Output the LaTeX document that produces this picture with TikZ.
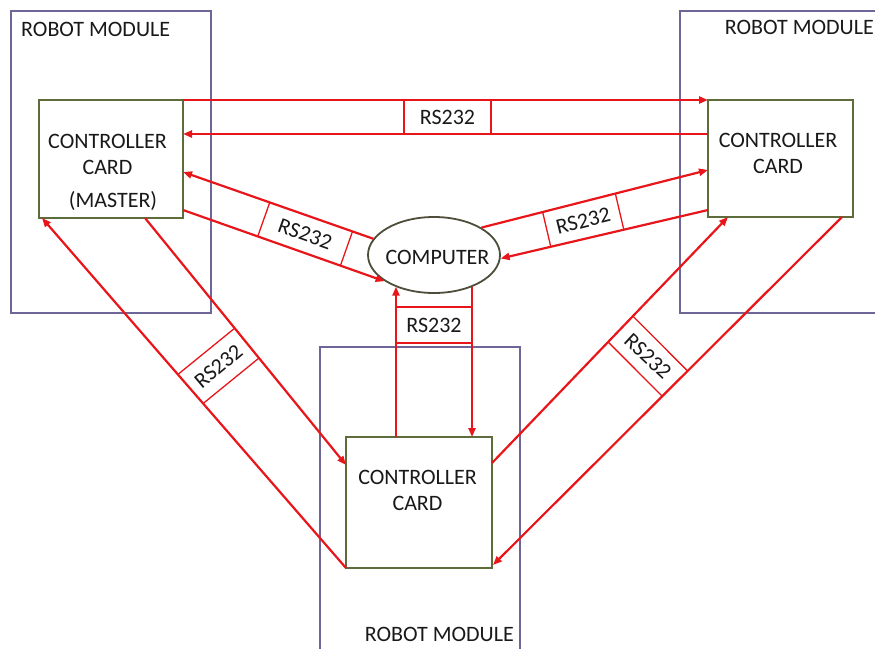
\documentclass[tikz,border=0pt]{standalone}
\usepackage{fontspec}
\setmainfont{Carlito}
\usetikzlibrary{arrows.meta,calc,shapes.geometric}
\definecolor{linkred}{HTML}{E8161B}
\definecolor{modcol}{HTML}{6E6699}
\definecolor{cardcol}{HTML}{5E6B3A}
\definecolor{compcol}{HTML}{4D4D3A}
\begin{document}
\begin{tikzpicture}[x=1pt,y=-1pt,
  module/.style={draw=modcol,line width=1.6pt,anchor=north west,inner sep=0pt,outer sep=0pt},
  card/.style={draw=cardcol,line width=2pt,fill=white,anchor=north west,inner sep=0pt,outer sep=0pt},
  txt/.style={font=\fontsize{22}{26}\selectfont,inner sep=0pt,text=black!90},
  link/.style={draw=linkred,line width=2.2pt,-{Triangle[length=9pt,width=7pt]}},
  cross/.style={draw=linkred,line width=1.3pt},
]
\useasboundingbox (0,0) rectangle (875,648);
% modules
\node[module,minimum width=200pt,minimum height=302pt] (lm) at (11,11) {};
\node[module,minimum width=200pt,minimum height=302pt] (rm) at (680,11) {};
\node[module,minimum width=200pt,minimum height=312pt] (bm) at (320,347) {};
\node[txt,anchor=west] (lml) at (21,29) {ROBOT MODULE};
\node[txt,anchor=east] (rml) at (874,27) {ROBOT MODULE};
\node[txt,anchor=east] (bml) at (514,634) {ROBOT MODULE};
% cards
\node[card,minimum width=144pt,minimum height=118pt] (lc) at (39,100) {};
\node[card,minimum width=145pt,minimum height=117pt] (rc) at (708,100) {};
\node[card,minimum width=146pt,minimum height=131pt] (bc) at (346,437) {};
\node[txt] (lc1) at (107.5,141) {CONTROLLER};
\node[txt] (lc2) at (107.5,167) {CARD};
\node[txt] (lc3) at (113,201) {(MASTER)};
\node[txt] (rc1) at (778,140) {CONTROLLER};
\node[txt] (rc2) at (778,166) {CARD};
\node[txt] (bc1) at (417.5,477) {CONTROLLER};
\node[txt] (bc2) at (417.5,503) {CARD};
% computer
\node[ellipse,draw=compcol,line width=1.8pt,fill=white,minimum width=132pt,minimum height=76pt,inner sep=0pt] (comp) at (434,255) {};
\node[txt] (compt) at (437.5,257) {COMPUTER};

% top channel
\draw[link] (lc.north east) -- (rc.north west);
\draw[link] ($(rc.north west)+(0,34)$) -- ($(lc.north east)+(0,34)$);
\draw[cross] ($(lc.north east)+(221,0)$) -- ($(lc.north east)+(221,34)$);
\draw[cross] ($(lc.north east)+(308,0)$) -- ($(lc.north east)+(308,34)$);
\node[txt] (t1) at ($(lc.north east)+(264.5,17)$) {RS232};

% left card <-> computer
\coordinate (u1) at (comp.165.5);
\coordinate (u2) at ($(lc.north east)+(0,72)$);
\coordinate (l1) at ($(lc.north east)+(0,110)$);
\coordinate (l2) at (comp.208);
\draw[link] (u1) -- (u2);
\draw[link] (l1) -- (l2);
\path ($(u1)!0.109!(u2)$) coordinate (lcp1) ($(u1)!0.544!(u2)$) coordinate (lcp2);
\path ($(l1)!(lcp1)!(l2)$) coordinate (lcq1) ($(l1)!(lcp2)!(l2)$) coordinate (lcq2);
\draw[cross] (lcp1) -- (lcq1);
\draw[cross] (lcp2) -- (lcq2);
\node[txt,rotate=-19.5] (t2) at ($(lcp1)!0.5!(lcq2)$) {RS232};

% right card <-> computer
\coordinate (ru1) at (comp.30);
\coordinate (ru2) at ($(rc.north west)+(0,70)$);
\coordinate (rl1) at ($(rc.north west)+(0,110)$);
\coordinate (rl2) at (comp.-3.5);
\draw[link] (ru1) -- (ru2);
\draw[link] (rl1) -- (rl2);
\path ($(ru1)!0.27!(ru2)$) coordinate (rcp1) ($(ru1)!0.591!(ru2)$) coordinate (rcp2);
\path ($(rl1)!(rcp1)!(rl2)$) coordinate (rcq1) ($(rl1)!(rcp2)!(rl2)$) coordinate (rcq2);
\draw[cross] (rcp1) -- (rcq1);
\draw[cross] (rcp2) -- (rcq2);
\node[txt,rotate=14] (t3) at ($(rcp1)!0.5!(rcq2)$) {RS232};

% bottom card <-> computer
\coordinate (v1) at ($(bc.north west)+(50,0)$);
\coordinate (v2) at ($(bc.north west)+(126,0)$);
\draw[link] (v1) -- (v1 |- comp.219.2);
\draw[link] (v2 |- comp.-39.2) -- (v2);
\draw[cross] ($(v1)+(0,-130)$) -- ($(v2)+(0,-130)$);
\draw[cross] ($(v1)+(0,-94)$) -- ($(v2)+(0,-94)$);
\node[txt] (t4) at ($(v1)!0.5!(v2)+(0,-112)$) {RS232};

% left card <-> bottom card
\coordinate (a1) at ($(lc.south west)+(106,0)$);
\coordinate (a2) at ($(bc.north west)+(0,28)$);
\coordinate (b1) at (bc.south west);
\coordinate (b2) at ($(lc.south west)+(3,0)$);
\draw[link] (a1) -- (a2);
\draw[link] (b1) -- (b2);
\path ($(b1)!0.553!(b2)$) coordinate (lbp1) ($(b1)!0.470!(b2)$) coordinate (lbp2);
\path ($(a1)!(lbp1)!(a2)$) coordinate (lbq1) ($(a1)!(lbp2)!(a2)$) coordinate (lbq2);
\draw[cross] (lbp1) -- (lbq1);
\draw[cross] (lbp2) -- (lbq2);
\node[txt,rotate=40] (t5) at ($(lbp1)!0.5!(lbq2)$) {RS232};

% right card <-> bottom card
\coordinate (c1) at ($(bc.north east)+(0,26)$);
\coordinate (c2) at ($(rc.south west)+(20,0)$);
\coordinate (d1) at ($(rc.south west)+(134,0)$);
\coordinate (d2) at ($(bc.south east)+(1,-3)$);
\draw[link] (c1) -- (c2);
\draw[link] (d1) -- (d2);
\path ($(c1)!0.492!(c2)$) coordinate (rbp1) ($(c1)!0.597!(c2)$) coordinate (rbp2);
\path ($(d1)!(rbp1)!(d2)$) coordinate (rbq1) ($(d1)!(rbp2)!(d2)$) coordinate (rbq2);
\draw[cross] (rbp1) -- (rbq1);
\draw[cross] (rbp2) -- (rbq2);
\node[txt,rotate=-43] (t6) at ($(rbp1)!0.5!(rbq2)$) {RS232};
\end{tikzpicture}
\end{document}
